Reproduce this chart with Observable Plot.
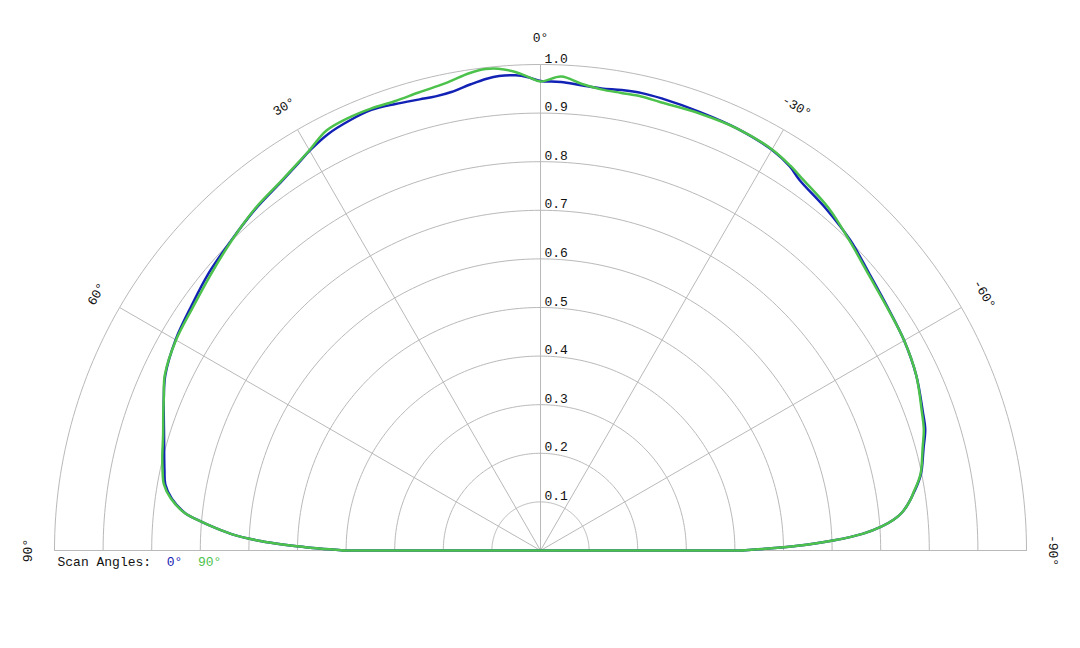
<!DOCTYPE html>
<html>
<head>
<meta charset="utf-8">
<script src="https://cdn.jsdelivr.net/npm/d3@7"></script>
<script src="https://cdn.jsdelivr.net/npm/@observablehq/plot@0.6"></script>
<style>
  html, body { margin: 0; padding: 0; background: #fff; }
  #chart { width: 1080px; height: 648px; }
</style>
</head>
<body>
<div id="chart"></div>
<script>
// Angles in degrees (positive = left of broadside, negative = right)
const angles = [-90, -89.5, -89, -88, -87, -86, -85, -84, -83, -82, -81, -80, -79, -78, -75, -72.5, -70, -65, -60, -55, -50, -45, -40, -35, -33, -30, -25, -20, -15, -12.5, -10, -7.5, -5, -2.5, 0, 1.5, 3, 5, 6.5, 8.5, 11, 13, 15, 18, 21, 24, 27, 30, 32, 35, 40, 45, 50, 55, 60, 65, 68, 70, 73, 76, 78, 80, 82, 84, 85, 86, 87, 88, 89, 89.5, 90];

// Normalised pattern for scan angle 0°
const scan0 = [0.415, 0.47, 0.525, 0.605, 0.665, 0.703, 0.730, 0.748, 0.760, 0.770, 0.779, 0.788, 0.796, 0.802, 0.816, 0.830, 0.837, 0.853, 0.864, 0.872, 0.884, 0.902, 0.916, 0.930, 0.942, 0.952, 0.958, 0.960, 0.963, 0.964, 0.962, 0.959, 0.961, 0.965, 0.966, 0.974, 0.979, 0.980, 0.977, 0.970, 0.961, 0.959, 0.961, 0.966, 0.971, 0.968, 0.962, 0.950, 0.940, 0.928, 0.915, 0.901, 0.890, 0.877, 0.867, 0.852, 0.836, 0.825, 0.810, 0.798, 0.791, 0.784, 0.766, 0.735, 0.705, 0.672, 0.635, 0.580, 0.500, 0.455, 0.405];

// Normalised pattern for scan angle 90°
const scan90 = [0.415, 0.47, 0.525, 0.605, 0.665, 0.703, 0.730, 0.748, 0.760, 0.770, 0.778, 0.787, 0.795, 0.801, 0.814, 0.827, 0.835, 0.853, 0.864, 0.871, 0.882, 0.900, 0.921, 0.936, 0.944, 0.953, 0.958, 0.957, 0.955, 0.957, 0.956, 0.957, 0.964, 0.976, 0.965, 0.975, 0.986, 0.995, 0.997, 0.993, 0.983, 0.978, 0.975, 0.972, 0.974, 0.974, 0.970, 0.951, 0.941, 0.929, 0.916, 0.900, 0.885, 0.873, 0.866, 0.853, 0.836, 0.826, 0.812, 0.802, 0.795, 0.787, 0.768, 0.736, 0.705, 0.672, 0.635, 0.580, 0.500, 0.455, 0.405];

const ringValues = [0.1, 0.2, 0.3, 0.4, 0.5, 0.6, 0.7, 0.8, 0.9, 1.0];
const spokeAngles = [90, 60, 30, 0, -30, -60, -90];
const spokeLabels = ["90°", "60°", "30°", "0°", "-30°", "-60°", "-90°"];
const seriesNames = ["0°", "90°"];
const seriesColors = ["#1222b4", "#4cc24c"];
const legendTitle = "Scan Angles:";

const rad = d => d * Math.PI / 180;
const px = (r, a) => -r * Math.sin(rad(a));
const py = (r, a) => r * Math.cos(rad(a));

const series = [scan0, scan90].map((vals, i) =>
  angles.map((a, j) => ({angle: a, r: vals[j], name: seriesNames[i]}))
);

// Ring geometry (semicircles)
const ringPts = [];
for (const rv of ringValues) {
  for (let a = -90; a <= 90; a += 1) ringPts.push({ring: rv, angle: a});
}

const spokes = spokeAngles.map((a, i) => ({angle: a, label: spokeLabels[i]}));

const fontFamily = "'Liberation Mono', 'DejaVu Sans Mono', monospace";
const charW = 13 * 0.6;

const marks = [
  // grid rings
  Plot.line(ringPts, {
    x: d => px(d.ring, d.angle), y: d => py(d.ring, d.angle), z: "ring",
    stroke: "#b9b9b9", strokeWidth: 1
  }),
  // spokes
  Plot.link(spokes, {
    x1: 0, y1: 0,
    x2: d => px(1, d.angle), y2: d => py(1, d.angle),
    stroke: "#b9b9b9", strokeWidth: 1
  }),
  // ring labels
  Plot.text(ringValues, {
    x: 0, y: d => d, text: d => d.toFixed(1),
    textAnchor: "start", lineAnchor: "bottom", dx: 4, dy: -2,
    fill: "#111", fontSize: 13
  }),
  // spoke labels
  Plot.text(spokes, {
    x: d => px(1.055, d.angle), y: d => py(1.055, d.angle),
    text: "label", rotate: d => -d.angle,
    textAnchor: "middle", lineAnchor: "middle",
    fill: "#111", fontSize: 13
  })
];

series.forEach((data, i) => {
  marks.push(
    Plot.line(data, {
      x: d => px(d.r, d.angle), y: d => py(d.r, d.angle),
      stroke: seriesColors[i], strokeWidth: 2.5, curve: "catmull-rom"
    }),
    Plot.line([data[data.length - 1], data[0]], {
      x: d => px(d.r, d.angle), y: d => py(d.r, d.angle),
      stroke: seriesColors[i], strokeWidth: 2.5
    })
  );
});

// legend under the left end of the baseline
marks.push(
  Plot.text([legendTitle], {
    x: -1, y: 0, text: d => d, textAnchor: "start", lineAnchor: "middle",
    dx: 3, dy: 11, fill: "#111", fontSize: 13
  })
);
seriesNames.forEach((name, i) => {
  const offsetChars = legendTitle.length + 2 + i * (seriesNames[0].length + 2);
  marks.push(Plot.text([name], {
    x: -1, y: 0, text: d => d, textAnchor: "start", lineAnchor: "middle",
    dx: 3 + offsetChars * charW, dy: 11, fontSize: 13, fill: seriesColors[i]
  }));
});

const chart = Plot.plot({
  width: 1080,
  height: 648,
  marginLeft: 54,
  marginRight: 54,
  marginTop: 64,
  marginBottom: 98,
  x: {domain: [-1, 1], axis: null},
  y: {domain: [0, 1], axis: null},
  style: {fontFamily, fontSize: "13px", background: "#fff", overflow: "visible"},
  marks
});
document.getElementById("chart").appendChild(chart);
</script>
</body>
</html>
